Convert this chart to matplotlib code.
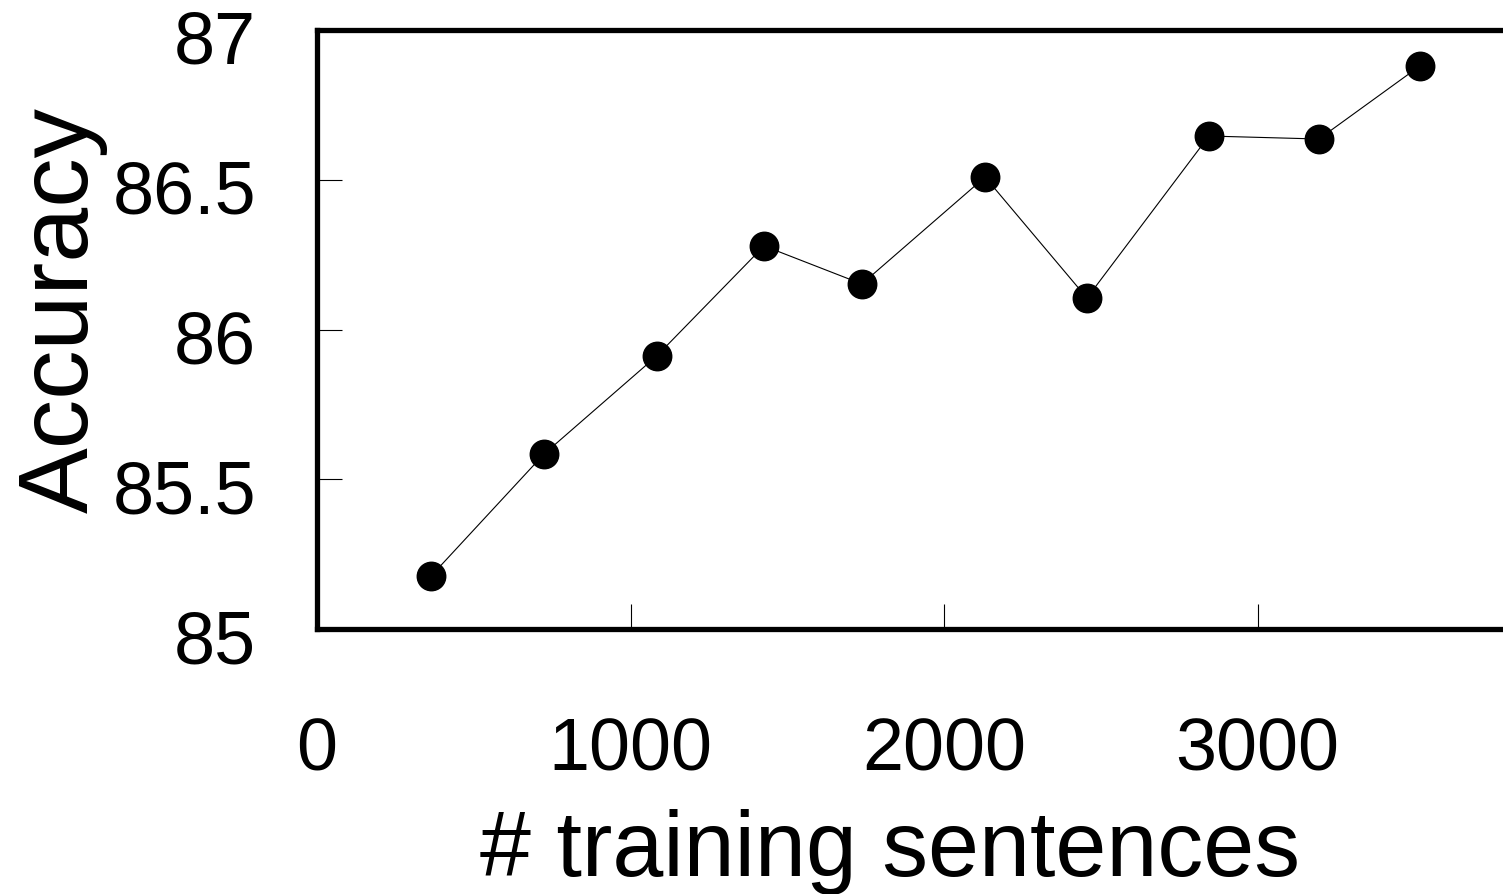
import matplotlib
matplotlib.use("Agg")
import matplotlib.pyplot as plt
import matplotlib.transforms as mtransforms

# training set sizes and accuracies
num_sentences = [364, 724, 1084, 1426, 1738, 2131, 2456, 2845, 3196, 3518]
accuracy = [85.177, 85.584, 85.912, 86.279, 86.152, 86.509, 86.105, 86.646, 86.636, 86.880]

x_ticks = [0, 1000, 2000, 3000]
y_ticks = [85, 85.5, 86, 86.5, 87]
y_tick_labels = ["85", "85.5", "86", "86.5", "87"]

tick_font = ["Liberation Sans Narrow", "Liberation Sans", "DejaVu Sans"]
label_font = ["Liberation Sans", "DejaVu Sans"]

fig = plt.figure(figsize=(15.03, 8.94), dpi=100)
ax = fig.add_axes([317 / 1503, 265 / 894, 1254 / 1503, 599 / 894])

ax.plot(num_sentences, accuracy, color="black", linewidth=0.8,
        marker="o", markersize=20.5, markerfacecolor="black", markeredgecolor="black")

ax.set_xlim(0, 4000)
ax.set_ylim(85, 87)
ax.set_xticks(x_ticks)
ax.set_yticks(y_ticks)
ax.set_yticklabels(y_tick_labels)

for side in ["top", "bottom", "left", "right"]:
    ax.spines[side].set_linewidth(3.8)

ax.tick_params(axis="both", direction="in", length=18, width=0.8, color="black")
ax.tick_params(axis="x", pad=63)
ax.tick_params(axis="y", pad=44)
for lbl in ax.get_xticklabels() + ax.get_yticklabels():
    lbl.set_fontfamily(tick_font)
    lbl.set_fontsize(53)

# y tick labels sit a little below their ticks in the original
shift = mtransforms.ScaledTranslation(0, -7 / 100, fig.dpi_scale_trans)
for lbl in ax.get_yticklabels():
    lbl.set_transform(lbl.get_transform() + shift)

ax.set_xlabel("# training sentences", fontsize=66, family=label_font)
ax.set_ylabel("Accuracy", fontsize=71, family=label_font)
ax.xaxis.set_label_coords(0.457, -0.30)
ax.yaxis.set_label_coords(-0.167, 0.533)

fig.savefig("out.png", dpi=100)
